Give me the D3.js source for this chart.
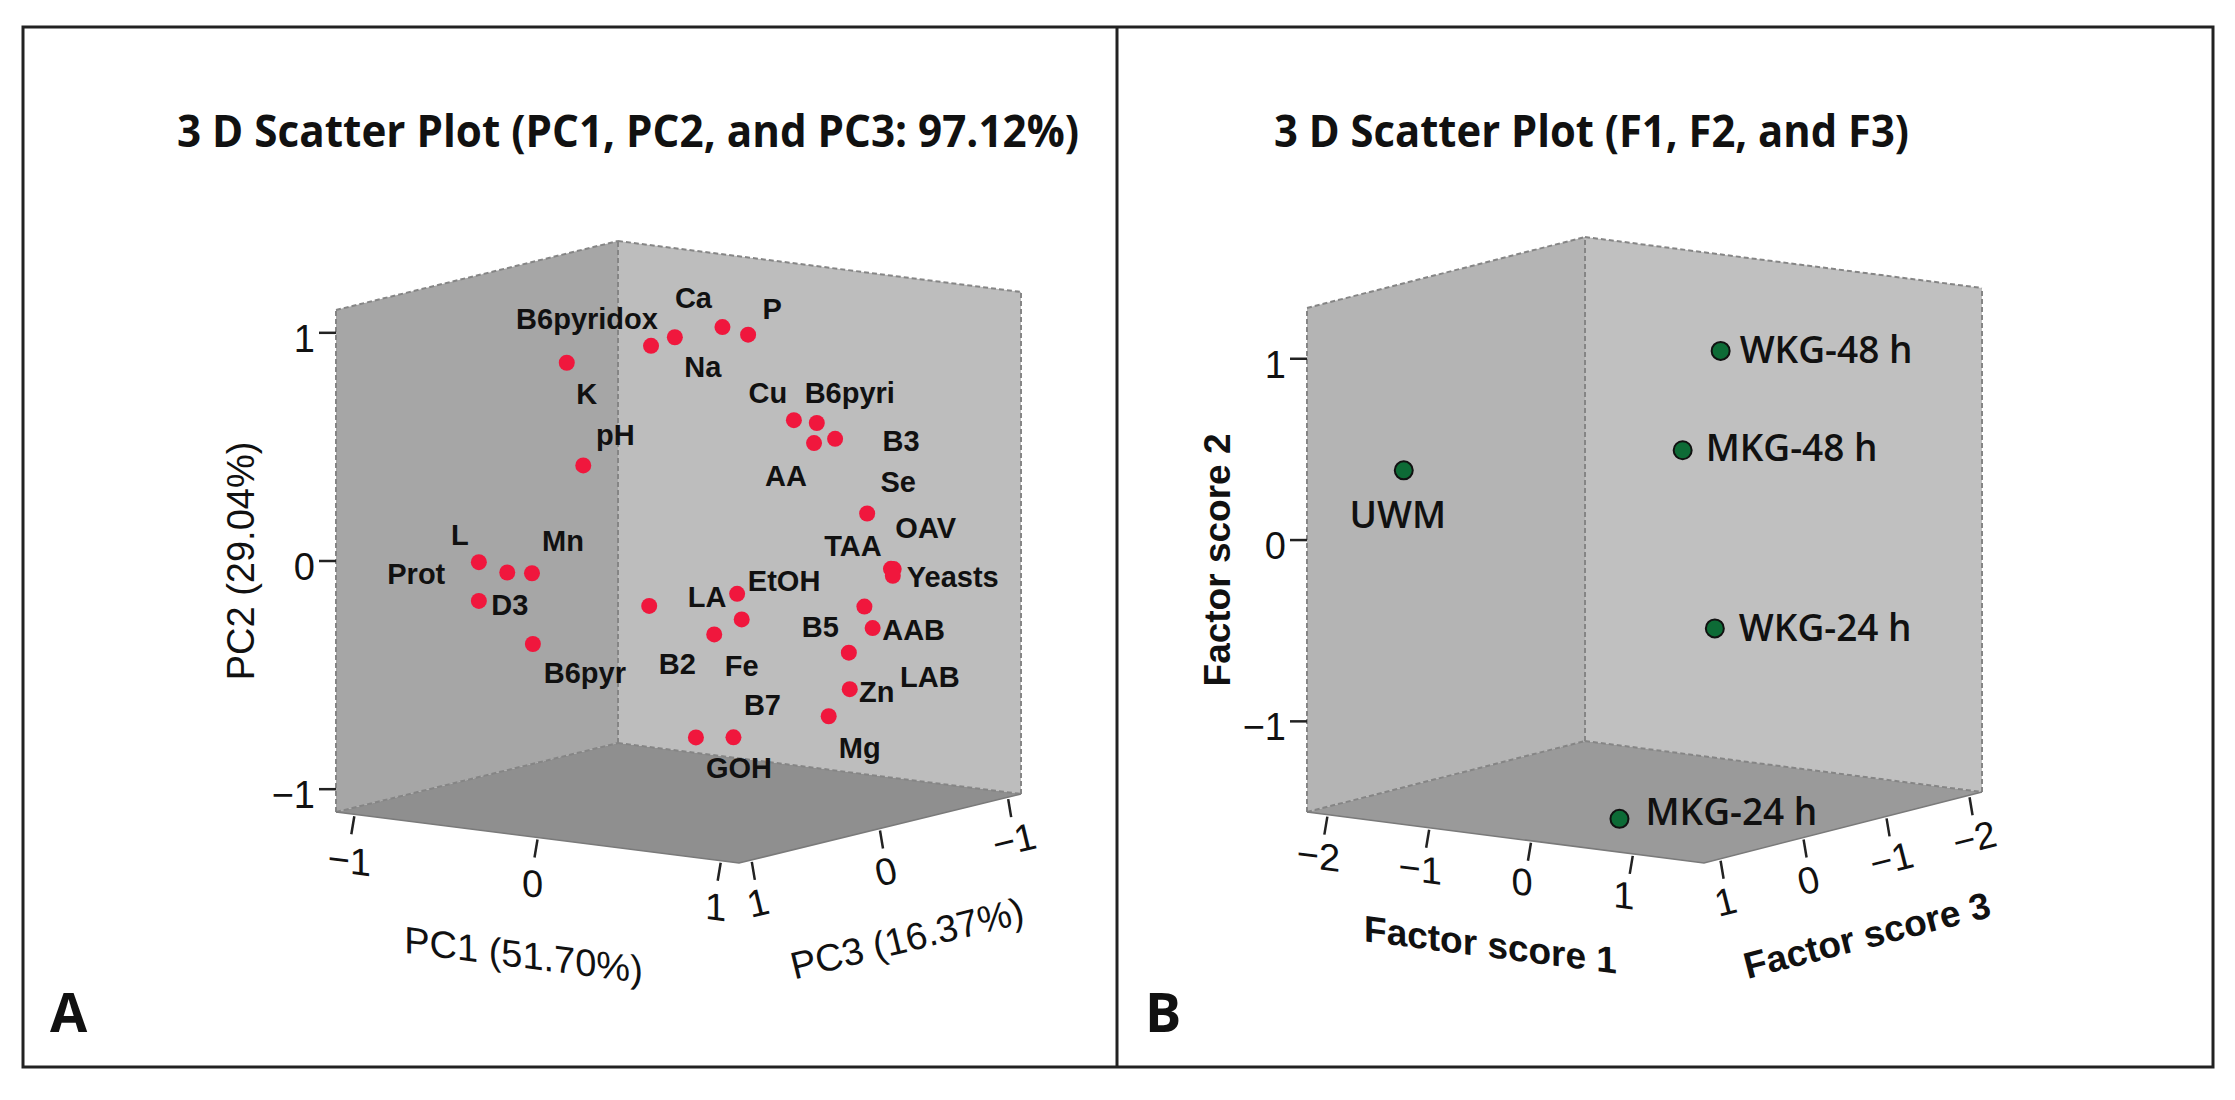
<!DOCTYPE html>
<html>
<head>
<meta charset="utf-8">
<script src="https://cdn.jsdelivr.net/npm/d3@7"></script>
<style>
  body { margin: 0; background: #fff; }
  text { font-family: "Liberation Sans", Arial, sans-serif; fill: #111; }
</style>
</head>
<body>
<script>
// panel A: loadings of the variables on PC1, PC2, PC3
var varNames = ["B6pyridox", "Na", "Ca", "P", "K", "pH", "Cu", "B6pyri", "AA", "B3",
  "Se", "TAA", "OAV", "Yeasts", "L", "Prot", "Mn", "D3", "B6pyr", "LA",
  "EtOH", "Fe", "B2", "B5", "AAB", "LAB", "Zn", "Mg", "B7", "GOH"];
var pc1 = [-0.01, 0.05, 0.24, 0.31, -0.40, -0.24, 0.49, 0.58, 0.53, 0.61,
  0.75, 0.81, 0.79, 0.82, -0.67, -0.55, -0.45, -0.67, -0.48, 0.05,
  0.39, 0.38, 0.30, 0.70, 0.71, 0.65, 0.62, 0.54, 0.44, 0.34];
var pc2 = [0.93, 0.96, 1.01, 0.97, 0.83, 0.41, 0.60, 0.59, 0.49, 0.51,
  0.19, -0.06, -0.07, -0.09, -0.03, -0.07, -0.07, -0.20, -0.39, -0.19,
  -0.13, -0.25, -0.31, -0.23, -0.33, -0.43, -0.60, -0.72, -0.74, -0.73];
var pc3 = [0.20, 0.10, 0.00, -0.10, 0.30, 0.40, -0.20, -0.25, -0.30, -0.35,
  -0.40, -0.50, -0.55, -0.50, 0.60, 0.55, 0.50, 0.60, 0.45, 0.30,
  0.10, 0.05, 0.15, -0.45, -0.50, -0.40, -0.45, -0.40, 0.20, 0.35];
var ticksPC = [-1, 0, 1];

// panel B: factor scores of the samples
var sampleNames = ["WKG-48 h", "MKG-48 h", "UWM", "WKG-24 h", "MKG-24 h"];
var fs1 = [0.07, -0.14, -1.82, -0.15, 0.25];
var fs2 = [0.95, 0.41, 0.33, -0.62, -1.45];
var fs3 = [-1.00, -0.80, 0.50, -1.20, 0.44];
var ticksFS1 = [-2, -1, 0, 1];
var ticksFS2 = [-1, 0, 1];
var ticksFS3 = [1, 0, -1, -2];

// label placement (offsets from the point, in px)
var varLabelDx = [-64, 28, -29, 24, 20, 32, -26, 33, -28, 66,
  31, -38, 32, 60, -19, -91, 31, 31, 52, 58,
  47, 0, -37, -44, 41, 81, 27, 31, 29, 43];
var varLabelDy = [-27, 30, -29, -26, 31, -30, -27, -30, 33, 2,
  -31, -23, -41, 1, -27, 2, -32, 4, 29, -9,
  -13, 47, 30, 20, 2, 24, 3, 32, -32, 31];
var sampleLabelDx = [19, 23, -6, 24, 26];
var sampleLabelDy = [-2, -4, 43, -2, -8];
var sampleLabelAnchor = ["start", "start", "middle", "start", "start"];

var W = 2235, H = 1100;
var svg = d3.select("body").append("svg")
    .attr("width", W)
    .attr("height", H);

svg.append("rect").attr("width", W).attr("height", H).attr("fill", "#fff");

// frame around both panels
svg.append("rect")
    .attr("x", 23).attr("y", 27)
    .attr("width", 2190).attr("height", 1040)
    .attr("fill", "none").attr("stroke", "#222").attr("stroke-width", 3);
svg.append("line")
    .attr("x1", 1117).attr("x2", 1117).attr("y1", 27).attr("y2", 1067)
    .attr("stroke", "#222").attr("stroke-width", 3);

function deg(v) { return Math.atan2(v[1], v[0]) * 180 / Math.PI; }

function drawPanel(p) {
  var g = svg.append("g");

  // projection of the unit cube to the page
  function pt(u, v, w) {
    return [p.o[0] + u * p.e1[0] + w * p.e3[0],
            p.o[1] + u * p.e1[1] + w * p.e3[1] - v * p.h];
  }
  function proj(a, b, c) { return pt(p.sx(a), p.sy(b), p.sz(c)); }

  var faces = [
    {pts: [pt(0,0,0), pt(0,1,0), pt(0,1,1), pt(0,0,1)], fill: p.leftFill},
    {pts: [pt(0,0,1), pt(0,1,1), pt(1,1,1), pt(1,0,1)], fill: p.rightFill},
    {pts: [pt(0,0,0), pt(1,0,0), pt(1,0,1), pt(0,0,1)], fill: p.floorFill}
  ];
  g.selectAll("polygon.face")
      .data(faces)
    .enter().append("polygon")
      .attr("class", "face")
      .attr("points", function(d) { return d.pts.join(" "); })
      .attr("fill", function(d) { return d.fill; });

  // dashed box edges
  var dashed = [
    [pt(0,0,0), pt(0,1,0)], [pt(0,1,0), pt(0,1,1)], [pt(0,1,1), pt(1,1,1)],
    [pt(0,0,1), pt(0,1,1)], [pt(1,0,1), pt(1,1,1)],
    [pt(0,0,0), pt(0,0,1)], [pt(0,0,1), pt(1,0,1)]
  ];
  g.selectAll("line.edge")
      .data(dashed)
    .enter().append("line")
      .attr("class", "edge")
      .attr("x1", function(d) { return d[0][0]; })
      .attr("y1", function(d) { return d[0][1]; })
      .attr("x2", function(d) { return d[1][0]; })
      .attr("y2", function(d) { return d[1][1]; })
      .attr("stroke", "#858585")
      .attr("stroke-width", 2)
      .attr("stroke-dasharray", "5,3");

  g.append("path")
      .attr("d", "M" + pt(0,0,0) + "L" + pt(1,0,0) + "L" + pt(1,0,1))
      .attr("fill", "none")
      .attr("stroke", "#7a7a7a")
      .attr("stroke-width", 1.5);

  var a1 = deg(p.e1), a3 = deg(p.e3);

  // vertical axis
  p.ticks2.forEach(function(t) {
    var q = pt(0, p.sy(t), 0);
    g.append("line")
        .attr("x1", q[0] - 17).attr("x2", q[0])
        .attr("y1", q[1]).attr("y2", q[1])
        .attr("stroke", "#222").attr("stroke-width", 2.5);
    g.append("text")
        .attr("x", q[0] - 21).attr("y", q[1] + 6)
        .attr("text-anchor", "end")
        .attr("dominant-baseline", "central")
        .style("font-size", "38px")
        .text(t < 0 ? "\u2212" + Math.abs(t) : t);
  });

  // axis along the front-left floor edge
  p.ticks1.forEach(function(t) {
    var q = pt(p.sx(t), 0, 0);
    g.append("line")
        .attr("x1", q[0]).attr("y1", q[1] + 2)
        .attr("x2", q[0] - 3).attr("y2", q[1] + 20)
        .attr("stroke", "#222").attr("stroke-width", 2.5);
    var lx = q[0] + p.tick1Off[0], ly = q[1] + p.tick1Off[1];
    g.append("text")
        .attr("transform", "translate(" + lx + "," + ly + ") skewY(" + a1 + ")")
        .attr("text-anchor", "middle")
        .attr("dominant-baseline", "central")
        .style("font-size", "38px")
        .text(t < 0 ? "\u2212" + Math.abs(t) : t);
  });

  // axis along the front-right floor edge
  p.ticks3.forEach(function(t) {
    var q = pt(1, 0, p.sz(t));
    g.append("line")
        .attr("x1", q[0]).attr("y1", q[1] + 2)
        .attr("x2", q[0] + 3).attr("y2", q[1] + 20)
        .attr("stroke", "#222").attr("stroke-width", 2.5);
    var lx = q[0] + p.tick3Off[0], ly = q[1] + p.tick3Off[1];
    g.append("text")
        .attr("transform", "translate(" + lx + "," + ly + ") rotate(" + a3 + ")")
        .attr("text-anchor", "middle")
        .attr("dominant-baseline", "central")
        .style("font-size", "38px")
        .text(t < 0 ? "\u2212" + Math.abs(t) : t);
  });

  // axis titles
  var m1 = pt(0.5, 0, 0), m3 = pt(1, 0, 0.5), m2 = pt(0, 0.5, 0);
  g.append("text")
      .attr("transform", "translate(" + (m1[0] + p.title1Off[0]) + "," + (m1[1] + p.title1Off[1]) + ") skewY(" + a1 + ")")
      .attr("text-anchor", "middle")
      .attr("dominant-baseline", "central")
      .style("font-size", p.axisSize)
      .style("font-weight", p.axisWeight)
      .text(p.title1);
  g.append("text")
      .attr("transform", "translate(" + (m3[0] + p.title3Off[0]) + "," + (m3[1] + p.title3Off[1]) + ") rotate(" + a3 + ")")
      .attr("text-anchor", "middle")
      .attr("dominant-baseline", "central")
      .style("font-size", p.axisSize)
      .style("font-weight", p.axisWeight)
      .text(p.title3);
  g.append("text")
      .attr("transform", "translate(" + (m2[0] - p.title2Off) + "," + m2[1] + ") rotate(-90)")
      .attr("text-anchor", "middle")
      .attr("dominant-baseline", "central")
      .style("font-size", p.axisSize)
      .style("font-weight", p.axisWeight)
      .text(p.title2);

  // points
  var pts = p.names.map(function(n, i) {
    var q = proj(p.v1[i], p.v2[i], p.v3[i]);
    return {name: n, x: q[0], y: q[1], dx: p.dx[i], dy: p.dy[i],
            anchor: p.anchor ? p.anchor[i] : "middle"};
  });
  g.selectAll("circle.pt")
      .data(pts)
    .enter().append("circle")
      .attr("class", "pt")
      .attr("cx", function(d) { return d.x; })
      .attr("cy", function(d) { return d.y; })
      .attr("r", p.r)
      .attr("fill", p.dotFill)
      .attr("stroke", p.dotStroke)
      .attr("stroke-width", p.dotStroke === "none" ? 0 : 2);
  g.selectAll("text.lbl")
      .data(pts)
    .enter().append("text")
      .attr("class", "lbl")
      .attr("x", function(d) { return d.x + d.dx; })
      .attr("y", function(d) { return d.y + d.dy; })
      .attr("text-anchor", function(d) { return d.anchor; })
      .attr("dominant-baseline", "central")
      .style("font-family", p.labelFont)
      .style("font-size", p.labelSize)
      .style("font-weight", p.labelWeight)
      .text(function(d) { return d.name; });

  // panel title and letter
  svg.append("text")
      .attr("x", p.titleX).attr("y", 147)
      .attr("textLength", p.titleLen)
      .attr("lengthAdjust", "spacingAndGlyphs")
      .style("font-family", "'Open Sans', sans-serif")
      .style("font-weight", 700)
      .style("font-size", "45px")
      .text(p.title);
  svg.append("text")
      .attr("x", p.letterX).attr("y", 1032)
      .style("font-family", "'Open Sans', sans-serif")
      .style("font-weight", 700)
      .style("font-size", "54px")
      .text(p.letter);
}

drawPanel({
  o: [336, 812], e1: [403, 51], e3: [282, -69], h: 502,
  sx: d3.scaleLinear().domain([-1.1, 1.1]).range([0, 1]),
  sy: d3.scaleLinear().domain([-1.1, 1.1]).range([0, 1]),
  sz: d3.scaleLinear().domain([1.1, -1.1]).range([0, 1]),
  ticks1: ticksPC, ticks2: ticksPC, ticks3: ticksPC,
  tick1Off: [-5, 46], tick3Off: [6, 43],
  leftFill: "#a6a6a6", rightFill: "#bdbdbd", floorFill: "#8f8f8f",
  title1: "PC1 (51.70%)", title2: "PC2 (29.04%)", title3: "PC3 (16.37%)",
  title1Off: [-14, 117], title3Off: [27, 110], title2Off: 95,
  axisSize: "38px", axisWeight: 400,
  names: varNames, v1: pc1, v2: pc2, v3: pc3,
  dx: varLabelDx, dy: varLabelDy,
  r: 8, dotFill: "#f0173d", dotStroke: "none",
  labelFont: "'Liberation Sans', Arial, sans-serif", labelSize: "29px", labelWeight: 700,
  title: "3 D Scatter Plot (PC1, PC2, and PC3: 97.12%)", titleX: 177, titleLen: 902,
  letter: "A", letterX: 50
});

drawPanel({
  o: [1307, 812], e1: [397, 51], e3: [278, -71], h: 504,
  sx: d3.scaleLinear().domain([-2.2, 1.7]).range([0, 1]),
  sy: d3.scaleLinear().domain([-1.5, 1.28]).range([0, 1]),
  sz: d3.scaleLinear().domain([1.2, -2.15]).range([0, 1]),
  ticks1: ticksFS1, ticks2: ticksFS2, ticks3: ticksFS3,
  tick1Off: [-9, 41], tick3Off: [5, 43],
  leftFill: "#b4b4b4", rightFill: "#c0c0c0", floorFill: "#9a9a9a",
  title1: "Factor score 1", title2: "Factor score  2", title3: "Factor score 3",
  title1Off: [-15, 107], title3Off: [24, 108], title2Off: 90,
  axisSize: "37px", axisWeight: 700,
  names: sampleNames, v1: fs1, v2: fs2, v3: fs3,
  dx: sampleLabelDx, dy: sampleLabelDy, anchor: sampleLabelAnchor,
  r: 9, dotFill: "#0d6b36", dotStroke: "#111",
  labelFont: "'Open Sans', sans-serif", labelSize: "37px", labelWeight: 600,
  title: "3 D Scatter Plot (F1, F2, and F3)", titleX: 1274, titleLen: 635,
  letter: "B", letterX: 1145
});
</script>
</body>
</html>
